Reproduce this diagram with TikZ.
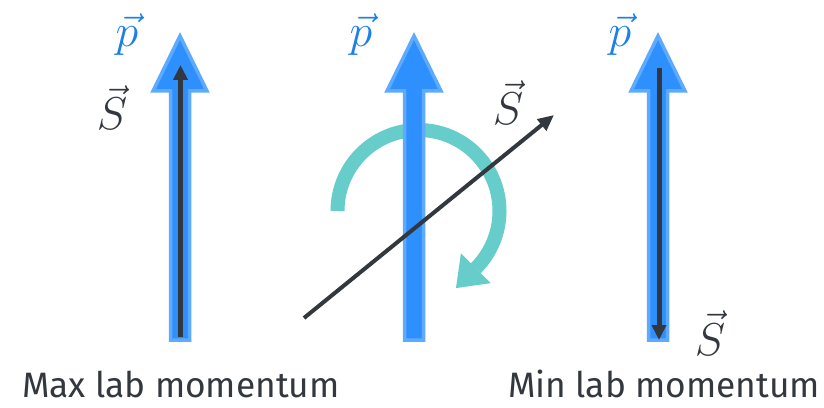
\RequirePackage{fix-cm}
\documentclass[tikz,border=0pt]{standalone}
\usepackage{fontspec}
\setsansfont{Fira Sans}
\usetikzlibrary{arrows.meta,calc}
\definecolor{pblue}{HTML}{2E90FF}
\definecolor{pblueedge}{HTML}{5DAAFF}
\definecolor{plabel}{HTML}{1C7FEA}
\definecolor{sdark}{HTML}{33383F}
\definecolor{tealc}{HTML}{67CDCB}
\tikzset{
  parrow/.style={fill=pblue, draw=pblueedge, line width=3.5pt, line join=miter},
  sarrow/.style={draw=sdark, line width=5pt, -{Triangle[length=15pt,width=14pt]}},
  diagarrow/.style={draw=sdark, line width=4pt, -{Triangle[length=16pt,width=14pt]}},
  rotarc/.style={draw=tealc, line width=14pt},
  rothead/.style={fill=tealc, draw=none},
  plab/.style={text=plabel, inner sep=0pt, anchor=base, font=\fontsize{46}{50}\selectfont},
  slab/.style={text=sdark, inner sep=0pt, anchor=base, font=\fontsize{46}{50}\selectfont},
  caption/.style={text=sdark, inner sep=0pt, anchor=base west, font=\sffamily\fontsize{35.3}{38}\selectfont},
}
\begin{document}
\begin{tikzpicture}[x=1pt,y=1pt]
\useasboundingbox (0,0) rectangle (824,407);
% rotation arc (behind the blue arrow)
\coordinate (c) at (418.5,196);
\draw[rotarc] ($(c)+(180:81)$) arc[start angle=180, end angle=-45, radius=81];
\coordinate (hb) at ($(c)+(-45:81)$);
\coordinate (tip) at ($(hb)+(-19.8,-19.8)$);
\coordinate (h1) at ($(hb)+(14.85,-14.85)$);
\coordinate (h2) at ($(hb)+(-14.85,14.85)$);
\fill[rothead] (h1) -- (tip) -- (h2) -- cycle;
% blue momentum arrows
\foreach \cx in {180,414,658}{
  \filldraw[parrow] (\cx-9.5,67) -- (\cx+9.5,67) -- (\cx+9.5,316) -- (\cx+27,316)
    -- (\cx,371) -- (\cx-27,316) -- (\cx-9.5,316) -- cycle;
}
% spin arrows
\coordinate (sL0) at (180.5,70);
\coordinate (sL1) at (180.5,342);
\draw[sarrow] (sL0) -- (sL1);
\coordinate (sR0) at (659,339);
\coordinate (sR1) at (659,67);
\draw[sarrow] (sR0) -- (sR1);
\coordinate (d0) at (304,89);
\coordinate (d1) at (554,292);
\draw[diagarrow] (d0) -- (d1);
% labels
\node[plab] (pL) at (127,360) {$\vec{p}$};
\node[plab] (pM) at (361,360) {$\vec{p}$};
\node[plab] (pR) at (620,360) {$\vec{p}$};
\node[slab] (sL) at (112,277) {$\vec{S}$};
\node[slab] (sM) at (508,282) {$\vec{S}$};
\node[slab] (sR) at (710,52) {$\vec{S}$};
\node[caption] (cMax) at (22,10) {Max lab momentum};
\node[caption] (cMin) at (508,10) {Min lab momentum};
\end{tikzpicture}
\end{document}
